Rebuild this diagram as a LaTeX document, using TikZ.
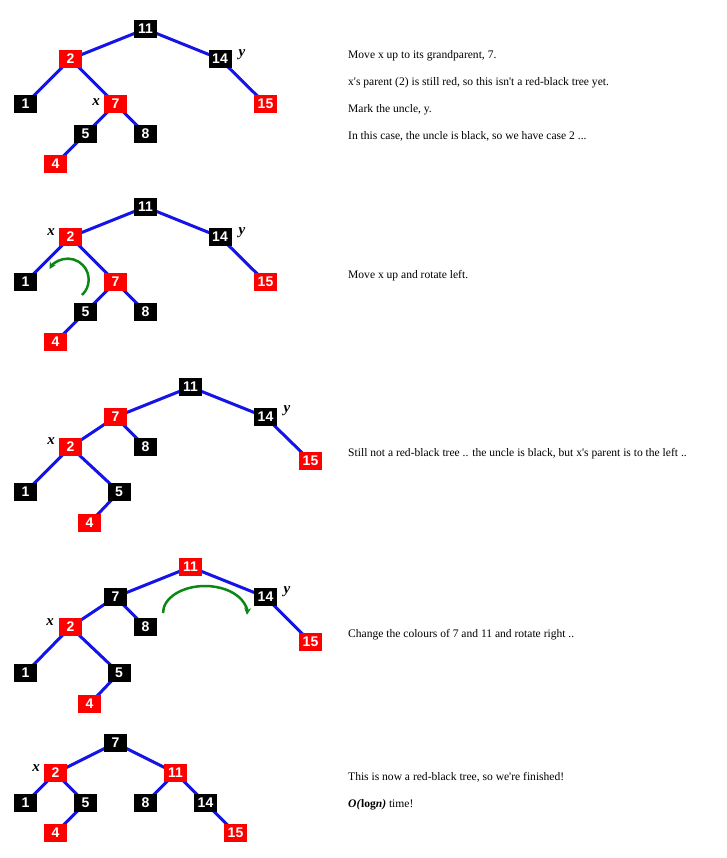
\documentclass[tikz,border=0pt]{standalone}
\usepackage{fontspec}
\setmainfont{Liberation Serif}
\newfontfamily\nodefont{Liberation Sans}
\usetikzlibrary{arrows.meta}
\pgfdeclarelayer{background}
\pgfsetlayers{background,main}
\definecolor{edgeblue}{RGB}{20,20,230}
\definecolor{rbred}{RGB}{255,0,0}
\definecolor{arcgreen}{RGB}{10,135,20}
\newcommand{\sq}{\textquotesingle}
\tikzset{
  rbnode/.style={rectangle, inner sep=0pt, minimum width=23pt, minimum height=18pt,
    text=white, font=\nodefont\bfseries\fontsize{14}{14}\selectfont},
  blk/.style={rbnode, fill=black},
  rd/.style={rbnode, fill=rbred},
  edge/.style={draw=edgeblue, line width=3pt},
  lbl/.style={font=\bfseries\itshape\fontsize{15}{15}\selectfont, inner sep=0pt},
  note/.style={anchor=base west, inner sep=0pt, font=\fontsize{11.55}{12}\selectfont},
  rot/.style={draw=arcgreen, line width=2.5pt, -{Stealth[length=7pt,width=7pt]}}
}
\begin{document}
\begin{tikzpicture}[x=1pt,y=-1pt]
\useasboundingbox (0,0) rectangle (727,858);
% ---------- tree 1 ----------
\node[blk] (a11) at (145.5,29) {11};
\node[rd]  (a2)  at (70.5,59) {2};
\node[blk] (a14) at (220,59) {14};
\node[blk] (a1)  at (25.5,104) {1};
\node[rd]  (a7)  at (115.5,104) {7};
\node[rd]  (a15) at (265.5,104) {15};
\node[blk] (a5)  at (85.5,134) {5};
\node[blk] (a8)  at (145.5,134) {8};
\node[rd]  (a4)  at (55.5,164) {4};
\node[lbl] (ax) at (96,102) {x};
\node[lbl] (ay) at (242,55) {y};
\begin{pgfonlayer}{background}
\draw[edge] (a11.center)--(a2.center) (a11.center)--(a14.center) (a2.center)--(a1.center)
  (a2.center)--(a7.center) (a7.center)--(a5.center) (a7.center)--(a8.center)
  (a5.center)--(a4.center) (a14.center)--(a15.center);
\end{pgfonlayer}
\node[note] (t1a) at (348,59) {Move x up to its grandparent, 7.};
\node[note] (t1b) at (348,86) {x\sq s parent (2) is still red, so this isn\sq t a red-black tree yet.};
\node[note] (t1c) at (348,113) {Mark the uncle, y.};
\node[note] (t1d) at (348,140) {In this case, the uncle is black, so we have case 2 ...};
% ---------- tree 2 ----------
\node[blk] (b11) at (145.5,207) {11};
\node[rd]  (b2)  at (70.5,237) {2};
\node[blk] (b14) at (220,237) {14};
\node[blk] (b1)  at (25.5,282) {1};
\node[rd]  (b7)  at (115.5,282) {7};
\node[rd]  (b15) at (265.5,282) {15};
\node[blk] (b5)  at (85.5,312) {5};
\node[blk] (b8)  at (145.5,312) {8};
\node[rd]  (b4)  at (55.5,342) {4};
\node[lbl] (bx) at (51,232) {x};
\node[lbl] (by) at (242,233) {y};
\begin{pgfonlayer}{background}
\draw[edge] (b11.center)--(b2.center) (b11.center)--(b14.center) (b2.center)--(b1.center)
  (b2.center)--(b7.center) (b7.center)--(b5.center) (b7.center)--(b8.center)
  (b5.center)--(b4.center) (b14.center)--(b15.center);
\end{pgfonlayer}
\coordinate (barc) at (82,295);
\draw[rot] (barc) arc[start angle=47, end angle=-150, radius=21];
\node[note] (t2a) at (348,279) {Move x up and rotate left.};
% ---------- tree 3 ----------
\node[blk] (c11) at (190.5,387) {11};
\node[rd]  (c7)  at (115.5,417) {7};
\node[blk] (c14) at (265.5,417) {14};
\node[rd]  (c2)  at (70.5,447) {2};
\node[blk] (c8)  at (145.5,447) {8};
\node[rd]  (c15) at (310.5,461) {15};
\node[blk] (c1)  at (25.5,492) {1};
\node[blk] (c5)  at (119,492) {5};
\node[rd]  (c4)  at (89.5,523) {4};
\node[lbl] (cx) at (51,441) {x};
\node[lbl] (cy) at (287,411) {y};
\begin{pgfonlayer}{background}
\draw[edge] (c11.center)--(c7.center) (c11.center)--(c14.center) (c7.center)--(c2.center)
  (c7.center)--(c8.center) (c2.center)--(c1.center) (c2.center)--(c5.center)
  (c5.center)--(c4.center) (c14.center)--(c15.center);
\end{pgfonlayer}
\node[note] (t3a) at (348,456) {Still not a red-black tree .. the uncle is black, but x\sq s parent is to the left ..};
% ---------- tree 4 ----------
\node[rd]  (d11) at (190.5,567) {11};
\node[blk] (d7)  at (115.5,597) {7};
\node[blk] (d14) at (265.5,597) {14};
\node[rd]  (d2)  at (70.5,627) {2};
\node[blk] (d8)  at (145.5,627) {8};
\node[rd]  (d15) at (310.5,642) {15};
\node[blk] (d1)  at (25.5,673) {1};
\node[blk] (d5)  at (119,673) {5};
\node[rd]  (d4)  at (89.5,704) {4};
\node[lbl] (dx) at (50,622) {x};
\node[lbl] (dy) at (287,592) {y};
\begin{pgfonlayer}{background}
\draw[edge] (d11.center)--(d7.center) (d11.center)--(d14.center) (d7.center)--(d2.center)
  (d7.center)--(d8.center) (d2.center)--(d1.center) (d2.center)--(d5.center)
  (d5.center)--(d4.center) (d14.center)--(d15.center);
\end{pgfonlayer}
\coordinate (darc) at (163,613);
\draw[rot] (darc) arc[start angle=180, end angle=364, x radius=42, y radius=27];
\node[note] (t4a) at (348,637) {Change the colours of 7 and 11 and rotate right ..};
% ---------- tree 5 ----------
\node[blk] (e7)  at (115.5,743) {7};
\node[rd]  (e2)  at (55.5,773) {2};
\node[rd]  (e11) at (175.5,773) {11};
\node[blk] (e1)  at (25.5,803) {1};
\node[blk] (e5)  at (85.5,803) {5};
\node[blk] (e8)  at (145.5,803) {8};
\node[blk] (e14) at (205.5,803) {14};
\node[rd]  (e4)  at (55.5,833) {4};
\node[rd]  (e15) at (235.5,833) {15};
\node[lbl] (ex) at (36,768) {x};
\begin{pgfonlayer}{background}
\draw[edge] (e7.center)--(e2.center) (e7.center)--(e11.center) (e2.center)--(e1.center)
  (e2.center)--(e5.center) (e5.center)--(e4.center) (e11.center)--(e8.center)
  (e11.center)--(e14.center) (e14.center)--(e15.center);
\end{pgfonlayer}
\node[note] (t5a) at (348,780) {This is now a red-black tree, so we\sq re finished!};
\node[note] (t5b) at (348,807) {\textbf{\textit{O(}log\textit{n)}} time!};
\end{tikzpicture}
\end{document}
